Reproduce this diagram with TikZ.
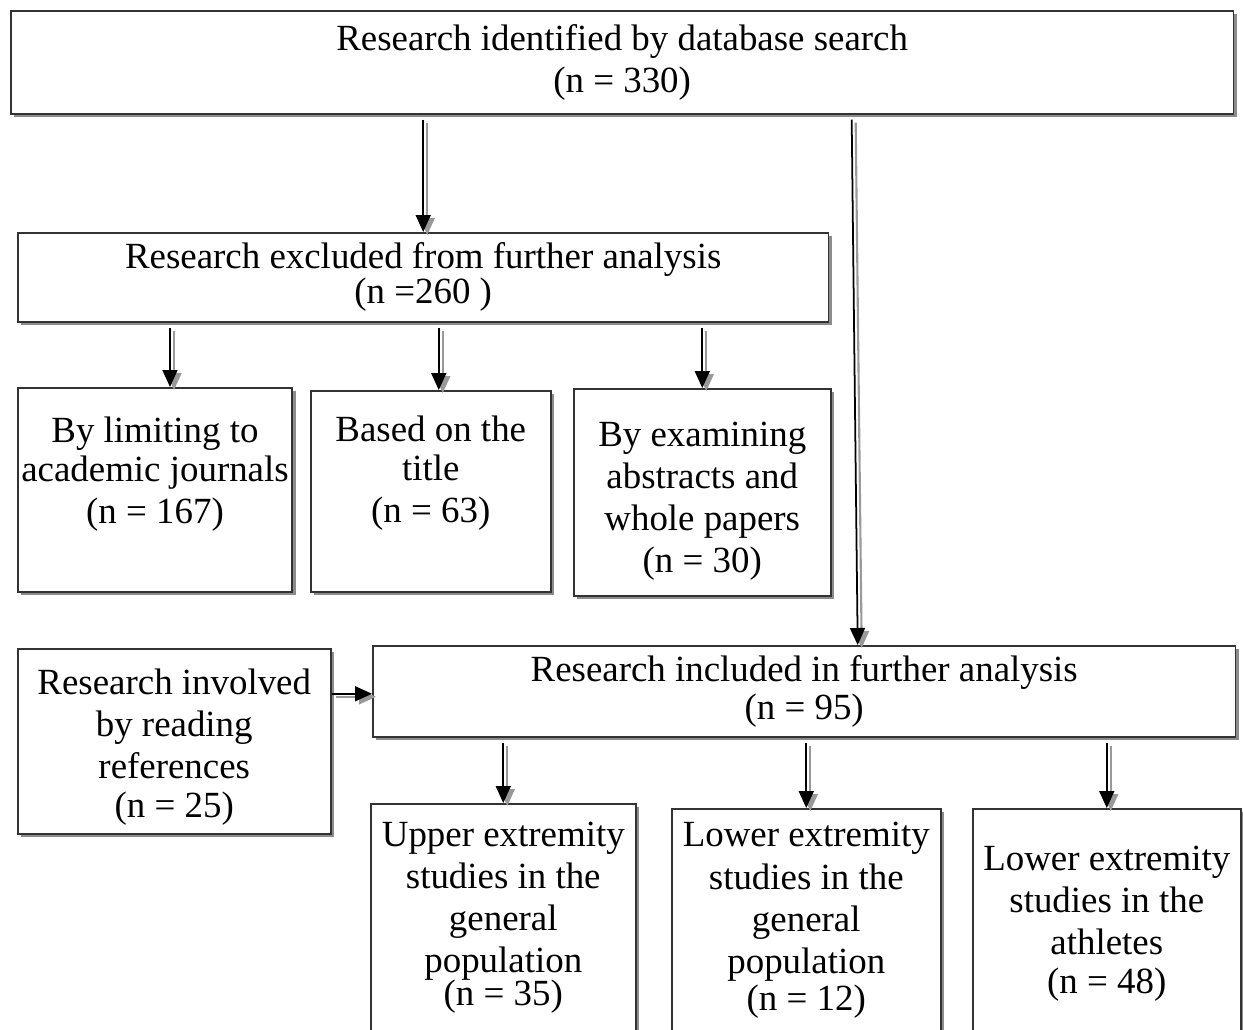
\documentclass[tikz,border=0pt]{standalone}
\usepackage{fontspec}
\setmainfont{Liberation Serif}
\usepackage{tikz}
\usetikzlibrary{arrows.meta,positioning,shadows}

\begin{document}
\begin{tikzpicture}[x=0.02cm,y=-0.02cm,font=\fontsize{21pt}{24pt}\selectfont,
  box/.style={draw=black!80,line width=0.9pt,fill=white,inner sep=2pt,align=center,anchor=north west,drop shadow={shadow xshift=0.07cm,shadow yshift=-0.07cm,fill=black!45,opacity=1}},
  arr/.style={-{Triangle[length=3.4mm,width=3mm]},line width=1pt,shorten <=0.1cm,preaction={draw=black!40,line width=1.2pt,transform canvas={shift={(0.08cm,-0.06cm)}}}}]
\clip (0,0) rectangle (1243,1030);
\node[box,minimum width=24.46cm,minimum height=2.06cm] (top) at (10,10) {Research identified by database search\\(n = 330)};
\node[box,minimum width=16.22cm,minimum height=1.78cm] (excl) at (17,232) {Research excluded from further analysis\\[-4pt](n =260 )};
\node[box,minimum width=5.44cm,minimum height=4.08cm,text depth=22pt] (limit) at (17,387) {By limiting to\\[-2pt]academic journals\\(n = 167)};
\node[box,minimum width=4.8cm,minimum height=4.02cm,text depth=25pt] (title) at (310,390) {Based on the\\[-2pt]title\\(n = 63)};
\node[box,minimum width=5.14cm,minimum height=4.14cm] (abstr) at (573,388) {\rule{0pt}{24pt}By examining\\abstracts and\\whole papers\\(n = 30)};
\node[box,minimum width=6.26cm,minimum height=3.70cm] (refs) at (17,648) {\rule{0pt}{21pt}Research involved\\by reading\\references\\[-2pt](n = 25)};
\node[box,minimum width=17.26cm,minimum height=1.82cm] (incl) at (372,645) {Research included in further analysis\\[-2pt](n = 95)};
\node[box,minimum width=5.30cm,minimum height=5.14cm,text depth=21pt] (upper) at (370,803) {Upper extremity\\studies in the\\general\\population\\[-5pt](n = 35)};
\node[box,minimum width=5.38cm,minimum height=5.04cm,text depth=21pt] (lowgen) at (671,808) {Lower extremity\\studies in the\\general\\population\\[-3pt](n = 12)};
\node[box,minimum width=5.36cm,minimum height=5.04cm,text depth=17pt] (athl) at (972,808) {Lower extremity\\studies in the\\athletes\\[-2pt](n = 48)};
\draw[arr] (excl.north |- top.south) -- (excl.north);
\draw[arr] ([xshift=4.59cm]top.south) -- ([xshift=1.07cm]incl.north);
\draw[arr] ([xshift=0.3cm]limit.north |- excl.south) -- ([xshift=0.3cm]limit.north);
\draw[arr] ([xshift=0.16cm]title.north |- excl.south) -- ([xshift=0.16cm]title.north);
\draw[arr] (abstr.north |- excl.south) -- (abstr.north);
\draw[arr,shorten <=0pt] ([yshift=0.95cm]refs.east) -- ([yshift=0.95cm]refs.east -| incl.west);
\draw[arr] (upper.north |- incl.south) -- (upper.north);
\draw[arr] (lowgen.north |- incl.south) -- (lowgen.north);
\draw[arr] (athl.north |- incl.south) -- (athl.north);
\end{tikzpicture}
\end{document}
